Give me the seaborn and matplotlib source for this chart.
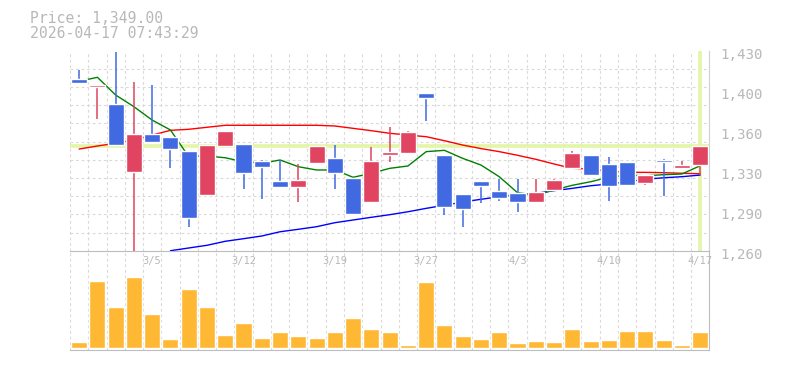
import numpy as np
import pandas as pd
import seaborn as sns
import matplotlib.pyplot as plt
from matplotlib.transforms import ScaledTranslation

# trading days shown on the chart
dates = ["2/27", "3/2", "3/3", "3/4", "3/5", "3/6", "3/9", "3/10", "3/11", "3/12",
         "3/13", "3/16", "3/17", "3/18", "3/19", "3/23", "3/24", "3/25", "3/26", "3/27",
         "3/30", "3/31", "4/1", "4/2", "4/3", "4/6", "4/7", "4/8", "4/9", "4/10",
         "4/13", "4/14", "4/15", "4/16", "4/17"]
label_dates = ["3/5", "3/12", "3/19", "3/27", "4/3", "4/10", "4/17"]

opens = [1405.9, 1399.4, 1384.7, 1326.9, 1359.2, 1356.6, 1344.8, 1307.6, 1349.0, 1350.7,
         1336.2, 1319.2, 1314.4, 1334.8, 1338.8, 1322.0, 1301.6, 1341.6, 1343.3, 1394.0,
         1341.3, 1308.2, 1319.2, 1310.7, 1308.8, 1301.4, 1311.4, 1330.3, 1341.3, 1333.7,
         1335.4, 1317.8, 1337.3, 1330.5, 1332.8]
highs = [1413.6, 1401.1, 1428.9, 1403.4, 1400.8, 1356.6, 1344.8, 1349.8, 1362.0, 1350.7,
         1337.0, 1337.0, 1333.7, 1349.0, 1349.8, 1322.0, 1348.1, 1365.1, 1362.0, 1394.0,
         1341.3, 1308.2, 1319.2, 1321.2, 1321.2, 1321.2, 1320.9, 1344.8, 1341.3, 1339.6,
         1335.4, 1324.6, 1338.2, 1336.5, 1349.0]
lows = [1402.8, 1372.0, 1350.1, 1255.0, 1352.4, 1330.3, 1280.0, 1307.6, 1348.0, 1312.7,
        1304.2, 1314.4, 1301.4, 1334.8, 1312.7, 1290.6, 1301.6, 1335.6, 1343.3, 1370.5,
        1290.6, 1280.4, 1300.8, 1302.5, 1292.9, 1300.8, 1311.4, 1330.3, 1324.6, 1302.2,
        1316.1, 1316.1, 1306.7, 1330.5, 1324.6]
closes = [1402.8, 1401.1, 1350.1, 1359.2, 1352.4, 1346.7, 1288.0, 1349.8, 1362.0, 1326.3,
          1331.4, 1314.4, 1320.1, 1349.0, 1326.3, 1291.4, 1336.2, 1343.9, 1360.9, 1390.0,
          1297.4, 1295.7, 1315.2, 1305.0, 1301.4, 1309.9, 1320.1, 1343.0, 1324.6, 1315.2,
          1316.1, 1324.6, 1335.6, 1332.8, 1349.0]

ma_short = [1404.0, 1407.4, 1392.3, 1382.4, 1371.0, 1362.6, 1339.9, 1340.5, 1339.0, 1335.6,
            1334.3, 1337.1, 1331.4, 1328.6, 1328.6, 1322.4, 1325.8, 1330.0, 1332.0, 1344.2,
            1345.3, 1338.5, 1332.8, 1322.9, 1309.3, 1307.3, 1311.6, 1315.6, 1318.6, 1322.4,
            1324.3, 1323.7, 1324.6, 1325.2, 1332.2]
ma_mid = [1346.4, 1349.0, 1351.3, 1354.1, 1358.3, 1362.3, 1363.2, 1364.9, 1366.6, 1366.6,
          1366.6, 1366.6, 1366.6, 1366.6, 1366.0, 1364.0, 1362.0, 1359.8, 1358.3, 1356.9,
          1353.5, 1349.8, 1346.8, 1344.2, 1341.1, 1337.7, 1333.7, 1330.0, 1329.4, 1327.7,
          1326.6, 1326.6, 1326.3, 1325.8, 1325.4]
ma_long = [np.nan, np.nan, np.nan, np.nan, np.nan, 1260.0, 1262.3, 1264.6, 1268.0, 1270.2,
           1272.5, 1276.1, 1278.2, 1280.4, 1283.8, 1286.1, 1288.4, 1290.6, 1293.1, 1296.0,
           1298.6, 1301.4, 1303.7, 1305.9, 1307.3, 1308.8, 1311.0, 1313.0, 1315.2, 1316.7,
           1318.6, 1320.7, 1322.0, 1322.9, 1324.3]

volume = [6, 67, 41, 71, 34, 9, 59, 41, 13, 25, 10, 16, 12, 10, 16, 30, 19, 16, 3, 66,
          23, 12, 9, 16, 5, 7, 6, 19, 7, 8, 17, 17, 8, 3, 16]

last_price = 1349.0
price_ticks = [1260, 1294, 1328, 1362, 1396, 1430]
price_labels = ["1,260", "1,290", "1,330", "1,360", "1,400", "1,430"]

sns.set_style("white")
plt.rcParams["font.family"] = ["DejaVu Sans Mono", "DejaVu Sans"]

UP = "#e04461"
DOWN = "#4169e1"
GRID = "#d9d9d9"
TEXT = "#b8b8b8"
HILITE = "#e3f5a6"

df = pd.DataFrame({"day": np.arange(len(dates)), "open": opens, "high": highs,
                   "low": lows, "close": closes, "vol": volume,
                   "ma_s": ma_short, "ma_m": ma_mid, "ma_l": ma_long})
df["color"] = np.where(df["close"] >= df["open"], UP, DOWN)

fig = plt.figure(figsize=(7.85, 3.7), dpi=100)
ax = fig.add_axes([70 / 785, 1 - 250.7 / 370, 639.3 / 785, 200 / 370])
axv = fig.add_axes([70 / 785, 1 - 350 / 370, 639.3 / 785, 99.3 / 370])

n = len(df)
grid_x = np.arange(n + 1) - 0.5
grid_y = 1260 + np.arange(12) * 170 / 11

for a in (ax, axv):
    for s in a.spines.values():
        s.set_visible(False)
    a.set_xlim(-0.5, n - 0.5)
    a.set_xticks(grid_x, minor=True)
    a.grid(which="minor", axis="x", color=GRID, ls=(0, (2.5, 2.5)), lw=0.8)
    a.set_axisbelow(True)
    a.tick_params(which="both", length=0)

# price panel
ax.set_ylim(1260, 1430)
ax.set_yticks(grid_y, minor=True)
ax.grid(which="minor", axis="y", color=GRID, ls=(0, (2.5, 2.5)), lw=0.8)
ax.axhline(last_price, color=HILITE, lw=2.6, zorder=1)
ax.axvline(n - 1, color=HILITE, lw=2.6, zorder=1)

sns.lineplot(data=df, x="day", y="ma_m", color="#ff0000", lw=1.0, ax=ax, zorder=2)
sns.lineplot(data=df, x="day", y="ma_l", color="#0000ff", lw=1.0, ax=ax, zorder=2)
sns.lineplot(data=df, x="day", y="ma_s", color="#008000", lw=1.0, ax=ax, zorder=2)

ax.vlines(df["day"], df["low"], df["high"], colors=df["color"], lw=1.1, zorder=3)
body_lo = df[["open", "close"]].min(axis=1)
body_h = (df["close"] - df["open"]).abs().clip(lower=0.8)
ax.bar(df["day"], body_h, bottom=body_lo, width=0.88, color=df["color"], zorder=4)

ax.set_xlabel("")
ax.set_ylabel("")
ax.set_xticks([dates.index(d) for d in label_dates])
ax.set_xticklabels(label_dates, fontsize=7.5, color=TEXT)
ax.tick_params(axis="x", which="major", pad=4)
ax.yaxis.tick_right()
ax.set_yticks(price_ticks)
ax.set_yticklabels(price_labels, fontsize=10.2, color=TEXT)
ax.tick_params(axis="y", which="major", pad=8)
shift = ScaledTranslation(0, -2.5 / 100, fig.dpi_scale_trans)
for lab in ax.get_yticklabels():
    lab.set_transform(lab.get_transform() + shift)
ax.spines["bottom"].set_visible(True)
ax.spines["bottom"].set_color("#bdbdbd")
ax.spines["right"].set_visible(True)
ax.spines["right"].set_color("#d0d0d0")

# volume panel
sns.barplot(data=df, x="day", y="vol", color="#ffb833", saturation=1, width=0.88,
            ax=axv, zorder=2)
axv.set_xlim(-0.5, n - 0.5)
axv.set_ylim(-2.3, 97)
axv.set_xticks([])
axv.set_yticks([])
axv.set_xticks(grid_x, minor=True)
axv.set_xlabel("")
axv.set_ylabel("")
axv.spines["bottom"].set_visible(True)
axv.spines["bottom"].set_color("#bdbdbd")
axv.spines["right"].set_visible(True)
axv.spines["right"].set_color("#bdbdbd")
ax.set_zorder(3)
ax.patch.set_alpha(0)

fig.text(30 / 785, 1 - 22.7 / 370, f"Price: {last_price:,.2f}", fontsize=10.6,
         color=TEXT, va="baseline")
fig.text(30 / 785, 1 - 37.7 / 370, "2026-04-17 07:43:29", fontsize=10.6,
         color=TEXT, va="baseline")

fig.savefig("out.png", dpi=100)
